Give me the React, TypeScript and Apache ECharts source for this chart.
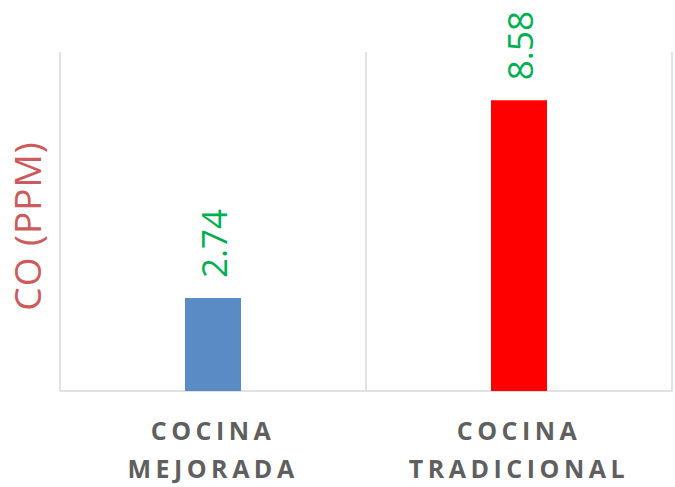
import React, { useEffect, useRef } from "react";
import * as echarts from "echarts";

const categories = ["COCINA\nMEJORADA", "COCINA\nTRADICIONAL"];
const values = [2.74, 8.58];
const barColors = ["#5b8bc4", "#ff0000"];
const yAxisName = "CO (PPM)";
const yMin = 0;
const yMax = 10;

export default function App() {
  const ref = useRef<HTMLDivElement>(null);
  useEffect(() => {
    if (!ref.current) return;
    const chart = echarts.init(ref.current, null, { renderer: "svg" });
    const applySpacing = () => {
      const texts = ref.current?.querySelectorAll("text") || [];
      texts.forEach((t) => {
        const s = (t.textContent || "").trim();
        if (/^[A-Z]+$/.test(s)) {
          t.setAttribute("letter-spacing", "4.5px");
        } else if (s === yAxisName) {
          t.setAttribute("letter-spacing", "1px");
        }
      });
    };
    chart.on("finished", applySpacing);
    chart.setOption({
      animation: false,
      backgroundColor: "#ffffff",
      grid: { left: 60, right: 3, top: 52, bottom: 90 },
      xAxis: {
        type: "category",
        data: categories,
        axisLine: { show: true, lineStyle: { color: "#d9d9d9", width: 1.5 } },
        axisTick: { show: false },
        splitLine: { show: true, lineStyle: { color: "#d9d9d9", width: 1.5 } },
        axisLabel: {
          color: "#5f5f5f",
          fontFamily: "Open Sans",
          fontWeight: "bold",
          fontSize: 25,
          lineHeight: 38,
          margin: 20,
          interval: 0,
        },
      },
      yAxis: {
        type: "value",
        min: yMin,
        max: yMax,
        name: yAxisName,
        nameLocation: "middle",
        nameGap: 15,
        nameRotate: 90,
        nameTextStyle: {
          color: "#cc5b5b",
          fontFamily: "Open Sans",
          fontSize: 37,
          padding: [0, 9, 0, 0],
        },
        axisLine: { show: false },
        axisTick: { show: false },
        axisLabel: { show: false },
        splitLine: { show: false },
      },
      series: [
        {
          type: "bar",
          barWidth: 56,
          data: values.map((v, i) => ({ value: v, itemStyle: { color: barColors[i] } })),
          label: {
            show: true,
            position: "top",
            rotate: 90,
            align: "left",
            verticalAlign: "middle",
            distance: 20,
            color: "#00b050",
            fontFamily: "Open Sans",
            fontSize: 35,
          },
        },
      ],
    });
    applySpacing();
    return () => {
      chart.dispose();
    };
  }, []);
  return (
    <div
      ref={ref}
      style={{ position: "fixed", left: 0, top: 0, width: 675, height: 487 }}
    />
  );
}
